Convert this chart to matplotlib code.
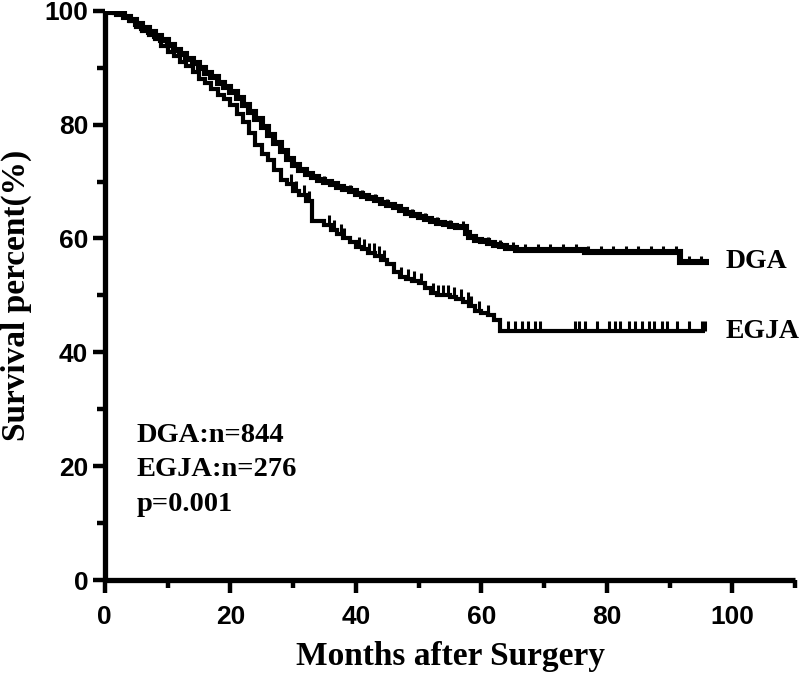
import numpy as np
import matplotlib
matplotlib.use("Agg")
import matplotlib.pyplot as plt

# ---- data ----
dga_t = [0, 1, 2, 3, 4, 5, 6, 7, 8, 9, 10, 11, 12, 13, 14, 15, 16, 17, 18, 19,
         20, 21, 22, 23, 24, 25, 26, 27, 28, 29, 30, 31, 32, 33, 34, 35, 36, 37,
         38, 39, 40, 41, 42, 43, 44, 45, 46, 47, 48, 49, 50, 51, 52, 53, 54, 55,
         56, 57.5, 58, 59, 60, 61, 62, 63, 64, 65.5, 76.5, 91.7]
dga_s = [100, 99.8, 99.4, 98.9, 98.3, 97.7, 97.0, 96.3, 95.6, 94.8, 94.0, 93.2,
         92.4, 91.6, 90.8, 90.0, 89.1, 88.3, 87.4, 86.6, 85.7, 84.6, 83.5, 82.3,
         81.0, 79.6, 78.2, 76.8, 75.3, 74.0, 72.9, 72.0, 71.3, 70.8, 70.3, 69.9,
         69.5, 69.1, 68.7, 68.3, 67.9, 67.5, 67.1, 66.7, 66.3, 65.9, 65.5, 65.0,
         64.5, 64.1, 63.7, 63.4, 63.1, 62.8, 62.5, 62.2, 62.0, 61.0, 60.3, 59.8,
         59.5, 59.2, 58.9, 58.6, 58.3, 58.0, 57.6, 55.9]
dga_end = 96.3

egja_t = [0, 1.5, 3, 4, 5, 6, 7, 8, 9, 10, 11, 12, 13, 14, 15, 16, 17, 18, 19,
          20, 21, 22, 23, 24, 25, 26, 27, 28, 29, 30, 31, 32, 33, 35, 36, 37, 38,
          39, 40, 41, 42, 43, 44, 45, 46, 47, 48, 49, 50, 51, 52, 53, 55, 56, 57,
          58, 59, 60, 61, 62, 63]
egja_s = [100, 99.6, 98.9, 98.2, 97.1, 96.4, 95.7, 95.0, 93.9, 92.8, 92.1, 91.0,
          90.3, 89.2, 88.1, 87.4, 86.3, 85.2, 84.5, 83.4, 81.9, 80.4, 78.6, 76.4,
          74.9, 73.8, 72.0, 70.2, 69.5, 68.4, 67.7, 66.6, 63.0, 62.3, 61.5, 60.8,
          60.0, 59.3, 58.5, 58.1, 57.4, 57.0, 56.3, 55.5, 54.1, 53.3, 52.9, 52.5,
          52.1, 51.3, 50.5, 50.1, 49.7, 49.3, 48.9, 48.1, 47.3, 46.9, 46.5, 45.7,
          43.7]
egja_end = 95.7

egja_censor = [29.6, 30.4, 31.7, 32.5, 35.7, 36.5, 37.6, 38.1, 40.5, 41.3, 42.1,
               42.9, 43.7, 44.5, 47.2, 48.3, 49.3, 50.4, 52.3, 53.1, 53.9, 54.7,
               55.7, 56.8, 57.9, 58.4, 59.7, 61.1, 64.3, 65.3, 66.4, 67.5, 68.5,
               69.3, 74.9, 75.5, 76.5, 78.4, 80.3, 81.3, 82.1, 83.5, 84.5, 85.6,
               86.7, 87.5, 88.8, 89.6, 91.2, 93.1, 95.2, 95.7]
dga_censor = [31, 33, 35, 37, 39, 41, 43, 45, 47, 49, 51, 53, 55, 57, 59, 61, 63,
              65, 67, 69, 71, 73, 75, 77, 79, 81, 83, 85, 87, 89, 91, 93, 95]

groups = ["DGA", "EGJA"]
annot = ["DGA:n=844", "EGJA:n=276", "p=0.001"]
xticks = [0, 20, 40, 60, 80, 100]
yticks = [0, 20, 40, 60, 80, 100]

serif = "Liberation Serif"
sans = "Liberation Sans"

fig = plt.figure(figsize=(8, 6.76), dpi=100)
ax = fig.add_axes([0.131, 0.142, 0.863, 0.842])


def surv_at(t_arr, s_arr, times):
    t_arr = np.asarray(t_arr)
    s_arr = np.asarray(s_arr)
    idx = np.searchsorted(t_arr, np.asarray(times), side="right") - 1
    return s_arr[idx]


for t, s, end, cens, lw, ms in [(dga_t, dga_s, dga_end, dga_censor, 4.4, 4),
                                (egja_t, egja_s, egja_end, egja_censor, 3.0, 7)]:
    tt = list(t) + [end]
    ss = list(s) + [s[-1]]
    ax.step(tt, ss, where="post", color="black", lw=lw, solid_joinstyle="miter",
            solid_capstyle="butt")
    ax.plot(cens, surv_at(t, s, cens), linestyle="none", marker=2,
            markersize=ms, markeredgewidth=2.2, color="black")

ax.set_xlim(0, 110)
ax.set_ylim(0, 100)
for side in ["top", "right"]:
    ax.spines[side].set_visible(False)
for side in ["left", "bottom"]:
    ax.spines[side].set_linewidth(3.8)
    ax.spines[side].set_capstyle("butt")

ax.set_xticks(xticks)
ax.set_yticks(yticks)
ax.set_xticks([10, 30, 50, 70, 90, 110], minor=True)
ax.set_yticks([10, 30, 50, 70, 90], minor=True)
ax.tick_params(axis="both", which="major", length=9, width=3.2, direction="out",
               labelsize=19, pad=3)
ax.tick_params(axis="both", which="minor", length=6, width=3.2, direction="out")
ax.tick_params(axis="x", which="major", pad=9)
for lab in ax.get_xticklabels() + ax.get_yticklabels():
    lab.set_fontfamily(sans)
    lab.set_fontweight("bold")

ax.set_xlabel("Months after Surgery", fontsize=24, fontweight="bold",
              family=serif)
ax.set_ylabel("Survival percent(%)", fontsize=24, fontweight="bold",
              family=serif)
ax.xaxis.set_label_coords(0.5, -0.108)
ax.yaxis.set_label_coords(-0.106, 0.5)

ax.text(98.9, dga_s[-1], groups[0], fontsize=20, fontweight="bold", family=serif,
        va="center", ha="left", clip_on=False)
ax.text(98.9, egja_s[-1], groups[1], fontsize=20, fontweight="bold", family=serif,
        va="center", ha="left", clip_on=False)

for i, line in enumerate(annot):
    ax.text(5.1, 24.3 - 6.1 * i, line, fontsize=20.5, fontweight="bold",
            family=serif, va="baseline", ha="left")

fig.savefig("out.png", dpi=100)
